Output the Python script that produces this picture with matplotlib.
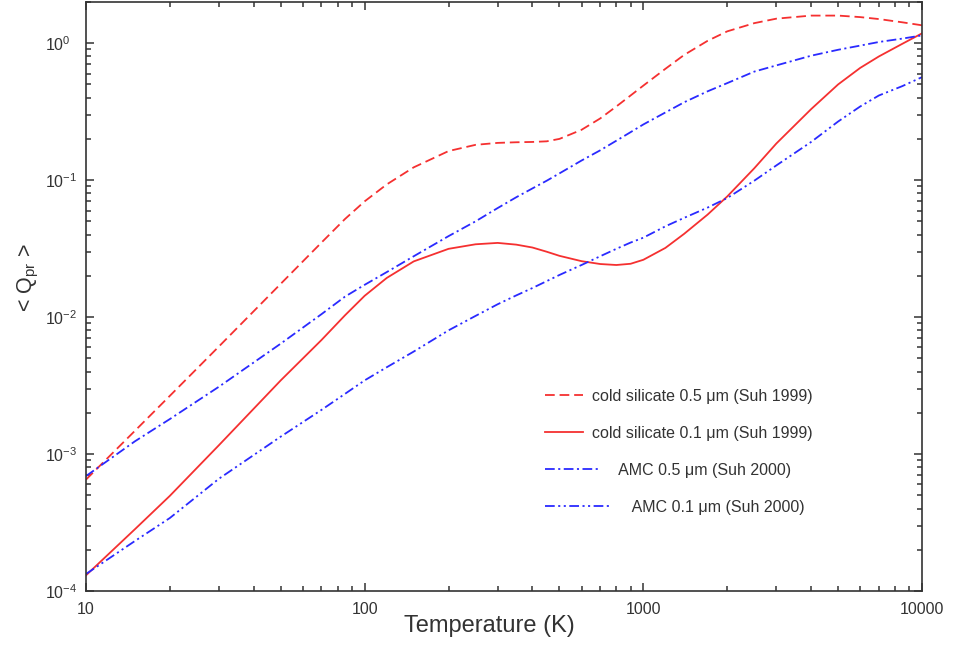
import matplotlib
matplotlib.use('Agg')
import matplotlib.pyplot as plt
from matplotlib import ticker
from matplotlib.legend_handler import HandlerLine2D

plt.rcParams['font.family'] = ['Liberation Sans', 'DejaVu Sans']
plt.rcParams['mathtext.fontset'] = 'custom'
plt.rcParams['mathtext.rm'] = 'Liberation Sans'
plt.rcParams['mathtext.it'] = 'Liberation Sans:italic'
plt.rcParams['lines.scale_dashes'] = False

# temperature grid (K)
temp = [10, 15, 20, 30, 50, 70, 85, 100, 120, 150, 200, 250, 300, 350, 400,
        450, 500, 600, 700, 800, 900, 1000, 1200, 1400, 1700, 2000, 2500,
        3000, 4000, 5000, 6000, 7000, 8500, 10000]

cold_sil_05 = [6.5e-4, 1.48e-3, 2.66e-3, 6.1e-3, 0.0175, 0.035, 0.052, 0.070,
               0.093, 0.124, 0.163, 0.181, 0.187, 0.189, 0.19, 0.192, 0.2,
               0.233, 0.282, 0.345, 0.415, 0.49, 0.65, 0.82, 1.04, 1.22, 1.40,
               1.51, 1.59, 1.59, 1.55, 1.50, 1.42, 1.35]
cold_sil_01 = [1.3e-4, 2.83e-4, 4.95e-4, 1.16e-3, 3.45e-3, 6.8e-3, 0.0103,
               0.0143, 0.0193, 0.0255, 0.0315, 0.034, 0.0348, 0.0338, 0.0322,
               0.030, 0.028, 0.0256, 0.0244, 0.024, 0.0245, 0.0262, 0.032,
               0.0405, 0.056, 0.076, 0.122, 0.185, 0.33, 0.5, 0.66, 0.80, 0.99,
               1.18]
amc_05 = [6.9e-4, 1.24e-3, 1.8e-3, 3.1e-3, 6.4e-3, 0.0105, 0.0141, 0.0172,
          0.0213, 0.0278, 0.039, 0.050, 0.0625, 0.075, 0.087, 0.099, 0.112,
          0.139, 0.165, 0.194, 0.224, 0.255, 0.312, 0.37, 0.445, 0.511, 0.62,
          0.688, 0.81, 0.895, 0.96, 1.02, 1.08, 1.14]
amc_01 = [1.33e-4, 2.32e-4, 3.41e-4, 6.6e-4, 1.34e-3, 2.1e-3, 2.75e-3, 3.45e-3,
          4.3e-3, 5.6e-3, 8.0e-3, 0.0102, 0.0124, 0.0144, 0.0163, 0.0183,
          0.0203, 0.024, 0.0278, 0.0315, 0.035, 0.038, 0.046, 0.053, 0.063,
          0.074, 0.099, 0.128, 0.19, 0.268, 0.345, 0.415, 0.486, 0.565]

labels = ['cold silicate 0.5 \u03bcm (Suh 1999)',
          'cold silicate 0.1 \u03bcm (Suh 1999)',
          '      AMC 0.5 \u03bcm (Suh 2000)',
          '         AMC 0.1 \u03bcm (Suh 2000)']

x_ticks = [10, 100, 1000, 10000]
x_tick_labels = ['10', '100', '1000', '10000']
y_ticks = [1e-4, 1e-3, 1e-2, 1e-1, 1e0]
y_tick_labels = ['10$^{-4}$', '10$^{-3}$', '10$^{-2}$', '10$^{-1}$', '10$^{0}$']

red = '#f53030'
blue = '#2a2aff'


class StretchedLine(HandlerLine2D):
    # longer legend sample for the AMC entries
    def __init__(self, factor, **kw):
        super().__init__(**kw)
        self.factor = factor

    def create_artists(self, legend, orig_handle, xdescent, ydescent,
                       width, height, fontsize, trans):
        return super().create_artists(legend, orig_handle, xdescent, ydescent,
                                      width * self.factor, height, fontsize, trans)


fig = plt.figure(figsize=(9.55, 6.48), dpi=100)
ax = fig.add_axes([0.090, 0.088, 0.8755, 0.909])

l1, = ax.plot(temp, cold_sil_05, color=red, lw=1.3, ls=(0, (7, 3.5)), label=labels[0])
l2, = ax.plot(temp, cold_sil_01, color=red, lw=1.3, ls='-', label=labels[1])
l3, = ax.plot(temp, amc_05, color=blue, lw=1.3, ls=(0, (7, 2.5, 1.5, 2.5)), label=labels[2])
l4, = ax.plot(temp, amc_01, color=blue, lw=1.3,
              ls=(0, (7, 2.5, 1.5, 2.5, 1.5, 2.5)), label=labels[3])

ax.set_xscale('log')
ax.set_yscale('log')
ax.set_xlim(10, 10000)
ax.set_ylim(1e-4, 2.0)

ax.set_xticks(x_ticks)
ax.set_xticklabels(x_tick_labels)
ax.set_yticks(y_ticks)
ax.set_yticklabels(y_tick_labels, ha='left')
ax.xaxis.set_minor_locator(ticker.LogLocator(base=10, subs=range(2, 10)))
ax.yaxis.set_minor_locator(ticker.LogLocator(base=10, subs=range(2, 10)))
ax.xaxis.set_minor_formatter(ticker.NullFormatter())
ax.yaxis.set_minor_formatter(ticker.NullFormatter())

ax.tick_params(which='both', direction='in', top=True, right=True,
               color='#333333', width=1.1)
ax.tick_params(which='major', length=6, labelsize=11.5, labelcolor='#333333')
ax.tick_params(which='minor', length=3.5)
ax.tick_params(axis='x', which='major', pad=8)
ax.tick_params(axis='y', which='major', pad=29.5)

for s in ax.spines.values():
    s.set_linewidth(1.2)
    s.set_color('#333333')

ax.set_xlabel('Temperature (K)', fontsize=17, color='#333333', labelpad=0)
ax.xaxis.set_label_coords(0.482, -0.040)
ax.xaxis.label.set_va('top')
ax.set_ylabel('< Q$_{\\rm pr}$ >', fontsize=15.5, color='#333333')
ax.yaxis.set_label_coords(-0.054, 0.532)

leg = ax.legend(handles=[l1, l2, l3, l4], loc='upper left',
                bbox_to_anchor=(0.549, 0.343), frameon=False,
                fontsize=11.5, handlelength=2.38, handletextpad=0.56,
                labelspacing=1.37, borderpad=0, borderaxespad=0,
                handler_map={l3: StretchedLine(1.42), l4: StretchedLine(1.71)})
for t in leg.get_texts():
    t.set_color('#333333')

fig.savefig('out.png', dpi=100)
